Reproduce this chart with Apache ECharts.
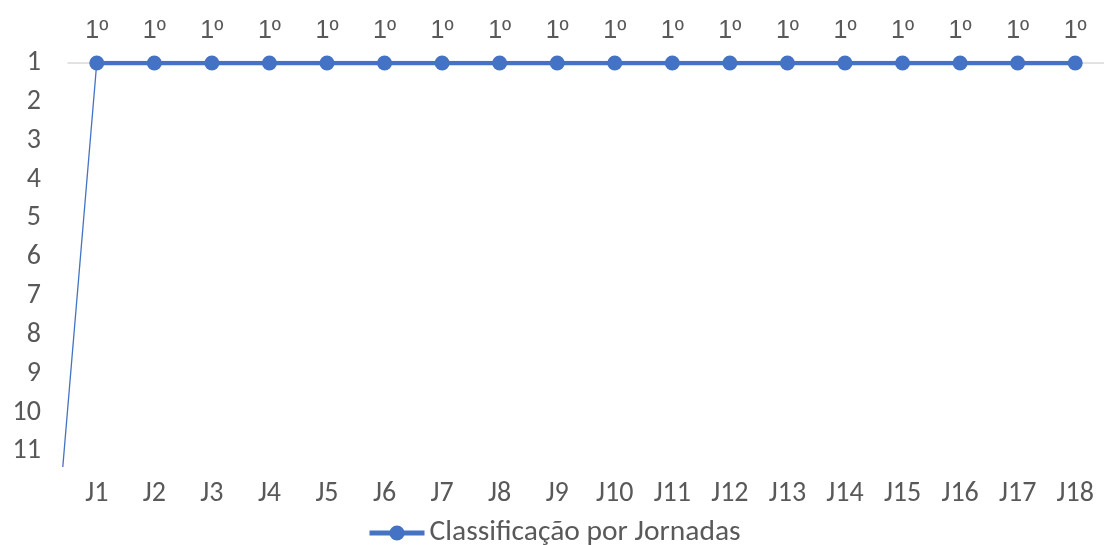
<!DOCTYPE html>
<html>
<head>
<meta charset="utf-8">
<script src="https://cdn.jsdelivr.net/npm/echarts@6/dist/echarts.min.js"></script>
<style>
  html, body { margin: 0; padding: 0; background: #ffffff; }
  #chart { width: 1104px; height: 545px; }
</style>
</head>
<body>
<div id="chart"></div>
<script>
// Round-by-round league position
const rounds = ['J1','J2','J3','J4','J5','J6','J7','J8','J9','J10','J11','J12','J13','J14','J15','J16','J17','J18'];
const positions = [1,1,1,1,1,1,1,1,1,1,1,1,1,1,1,1,1,1];
const positionLabels = ['1º','1º','1º','1º','1º','1º','1º','1º','1º','1º','1º','1º','1º','1º','1º','1º','1º','1º'];
// Entry segment leading into the first round (x in round index units, y in position)
const entrySegment = [[-0.59, 11.4], [0, 1]];
const positionTicks = [1, 2, 3, 4, 5, 6, 7, 8, 9, 10, 11];
const positionMax = 11.4;

const seriesName = 'Classificação por Jornadas';
const blue = '#4472C4';
const textColor = '#595959';
const fontFamily = 'Carlito, Lato, "Open Sans", sans-serif';
// ordinal indicator drawn with an underlined glyph
const labelFont = '"Liberation Sans", "DejaVu Sans", sans-serif';

// Main plot: categories span x = 68 .. 1111 (band ~57.94 px)
const plotLeft = 68, plotRight = -7, plotTop = 63, plotBottom = 78;
// Overlay plot starts a little further left so the entry segment is not clipped
const overlayLeft = 63;
const bandWidth = (1104 - plotRight - plotLeft) / rounds.length;
const overlayMin = -0.5 - (plotLeft - overlayLeft) / bandWidth;

const chart = echarts.init(document.getElementById('chart'), null, { renderer: 'canvas' });
chart.setOption({
  animation: false,
  backgroundColor: '#ffffff',
  grid: [
    { left: plotLeft, right: plotRight, top: plotTop, bottom: plotBottom, containLabel: false },
    { left: overlayLeft, right: plotRight, top: plotTop, bottom: plotBottom, containLabel: false }
  ],
  legend: {
    data: [seriesName],
    left: 367,
    top: 518,
    padding: 0,
    itemWidth: 55,
    itemHeight: 19,
    itemGap: 5,
    lineStyle: { width: 5 },
    textStyle: { color: textColor, fontSize: 29.5, fontFamily: fontFamily }
  },
  xAxis: [
    {
      type: 'category',
      gridIndex: 0,
      data: rounds,
      position: 'bottom',
      boundaryGap: true,
      axisLine: { show: false },
      axisTick: { show: false },
      axisLabel: { color: textColor, fontSize: 28, fontFamily: fontFamily, margin: 13 },
      splitLine: { show: false }
    },
    {
      type: 'category',
      gridIndex: 0,
      data: rounds,
      position: 'top',
      boundaryGap: true,
      axisLine: { show: true, onZero: false, lineStyle: { color: '#D9D9D9', width: 1.5 } },
      axisTick: { show: false },
      axisLabel: { show: false },
      splitLine: { show: false }
    },
    {
      type: 'value',
      gridIndex: 1,
      min: overlayMin,
      max: rounds.length - 0.5,
      show: false
    }
  ],
  yAxis: [
    {
      type: 'value',
      gridIndex: 0,
      inverse: true,
      min: positionTicks[0],
      max: positionMax,
      interval: 1,
      axisLine: { show: false },
      axisTick: { show: false },
      splitLine: { show: false },
      axisLabel: {
        color: textColor,
        fontSize: 28,
        fontFamily: fontFamily,
        margin: 27,
        showMaxLabel: false,
        formatter: v => positionTicks.includes(v) ? String(v) : ''
      }
    },
    {
      type: 'value',
      gridIndex: 1,
      inverse: true,
      min: positionTicks[0],
      max: positionMax,
      show: false
    }
  ],
  series: [
    {
      name: 'entry',
      type: 'line',
      xAxisIndex: 2,
      yAxisIndex: 1,
      data: entrySegment,
      clip: false,
      symbol: 'none',
      silent: true,
      lineStyle: { color: blue, width: 1.3 },
      z: 1
    },
    {
      name: seriesName,
      type: 'line',
      xAxisIndex: 0,
      yAxisIndex: 0,
      data: positions,
      symbol: 'circle',
      symbolSize: 15,
      itemStyle: { color: blue },
      lineStyle: { color: blue, width: 4.5 },
      label: {
        show: true,
        position: 'top',
        distance: 12,
        color: textColor,
        fontSize: 25,
        fontFamily: labelFont,
        formatter: p => positionLabels[p.dataIndex]
      },
      z: 3
    }
  ]
});
</script>
</body>
</html>
